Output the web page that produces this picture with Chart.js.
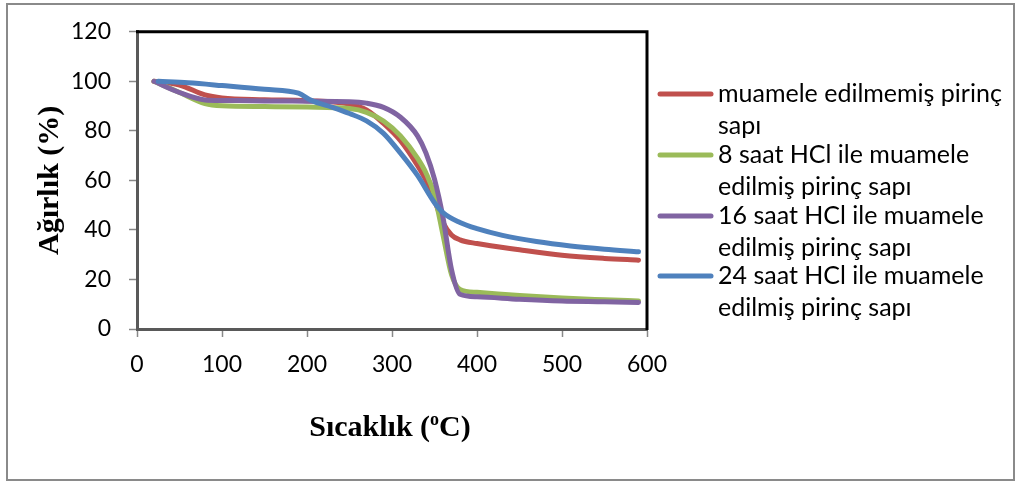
<!DOCTYPE html>
<html>
<head>
<meta charset="utf-8">
<script src="https://cdn.jsdelivr.net/npm/chart.js@4"></script>
<style>
  html, body { margin: 0; padding: 0; background: #fff; }
  #wrap { width: 1016px; height: 482px; }
</style>
</head>
<body>
<div id="wrap"><canvas id="tgaChart" width="1016" height="482"></canvas></div>
<script>
// temperature (°C) and mass (%)
const baseTemp = [20, 50, 80, 100, 150, 200, 250, 270, 290, 310, 330, 340, 350, 360, 370, 380, 400, 450, 500, 550, 590];
const untreatedMass = [100, 98.5, 94.5, 93.3, 92.6, 92.2, 90.8, 88.5, 83, 76, 66, 60, 52, 43, 38, 36, 34.5, 32, 29.8, 28.5, 27.8];
const hcl8Mass = [100, 95.5, 91, 90.1, 89.8, 89.6, 89, 87.5, 84, 78, 69, 63, 54, 38, 22, 16, 14.8, 13.5, 12.5, 11.8, 11.3];
const hcl16Mass = [100, 95.5, 92.5, 92.3, 92.1, 92, 91.8, 91.2, 89.5, 85.5, 78, 71, 60.5, 45, 24, 14, 13, 12, 11.3, 11, 10.7];
const hcl24Temp = [25, 60, 100, 150, 190, 205, 230, 250, 270, 290, 310, 330, 350, 360, 380, 400, 430, 470, 510, 550, 590];
const hcl24Mass = [100, 99.4, 98.3, 96.8, 95.2, 92.3, 89.5, 87, 84, 79, 71, 62, 51, 47, 43, 40.5, 37.8, 35.3, 33.5, 32.2, 31.2];

const seriesLabels = [
  'muamele edilmemiş pirinç sapı',
  '8 saat HCl ile muamele edilmiş pirinç sapı',
  '16 saat HCl ile muamele edilmiş pirinç sapı',
  '24 saat HCl ile muamele edilmiş pirinç sapı'
];
const seriesColors = ['#C0504D', '#9BBB59', '#8064A2', '#4F81BD'];

const xTitle = ['Sıcaklık (', 'o', 'C)'];
const yTitle = 'Ağırlık (%)';

const tickFont = { family: 'Lato', size: 23 };
const titleFamily = '"Liberation Serif", "Times New Roman", serif';

function pts(xs, ys) {
  return xs.map((x, i) => ({ x: x, y: ys[i] }));
}

// gray outer frame + black top/right plot border + x title + legend
const decorPlugin = {
  id: 'decor',
  afterDraw(chart) {
    const ctx = chart.ctx;
    const a = chart.chartArea;
    ctx.save();
    ctx.strokeStyle = '#8a8a8a';
    ctx.lineWidth = 2;
    ctx.strokeRect(7, 4, 1007, 476);

    ctx.strokeStyle = '#000';
    ctx.lineWidth = 3;
    ctx.beginPath();
    ctx.moveTo(a.left - 1, a.top);
    ctx.lineTo(a.right, a.top);
    ctx.lineTo(a.right, a.bottom + 1);
    ctx.stroke();

    // x axis title with superscript o
    ctx.fillStyle = '#000';
    ctx.textBaseline = 'alphabetic';
    const big = 'bold 30px ' + titleFamily;
    const small = 'bold 18px ' + titleFamily;
    ctx.font = big;
    const w0 = ctx.measureText(xTitle[0]).width;
    const w2 = ctx.measureText(xTitle[2]).width;
    ctx.font = small;
    const w1 = ctx.measureText(xTitle[1]).width;
    let x = 390 - (w0 + w1 + w2) / 2;
    const base = 436;
    ctx.font = big;
    ctx.fillText(xTitle[0], x, base);
    x += w0;
    ctx.font = small;
    ctx.fillText(xTitle[1], x, base - 11);
    x += w1;
    ctx.font = big;
    ctx.fillText(xTitle[2], x, base);

    // legend on the right, wrapped like the original
    ctx.font = '25px Lato';
    const rowY = [94, 155, 216, 276];
    seriesLabels.forEach((label, i) => {
      const y = rowY[i];
      ctx.strokeStyle = seriesColors[i];
      ctx.lineWidth = 5;
      ctx.lineCap = 'round';
      ctx.beginPath();
      ctx.moveTo(660, y);
      ctx.lineTo(711, y);
      ctx.stroke();
      const words = label.split(' ');
      const lines = [];
      let cur = '';
      words.forEach(wd => {
        const test = cur ? cur + ' ' + wd : wd;
        if (ctx.measureText(test).width > 292 && cur) {
          lines.push(cur);
          cur = wd;
        } else {
          cur = test;
        }
      });
      lines.push(cur);
      lines.forEach((ln, j) => {
        ctx.fillText(ln, 718, y + 8 + j * 32);
      });
    });
    ctx.restore();
  }
};

new Chart(document.getElementById('tgaChart'), {
  type: 'line',
  data: {
    datasets: [
      { label: seriesLabels[0], data: pts(baseTemp, untreatedMass), borderColor: seriesColors[0], order: 4 },
      { label: seriesLabels[1], data: pts(baseTemp, hcl8Mass), borderColor: seriesColors[1], order: 3 },
      { label: seriesLabels[2], data: pts(baseTemp, hcl16Mass), borderColor: seriesColors[2], order: 2 },
      { label: seriesLabels[3], data: pts(hcl24Temp, hcl24Mass), borderColor: seriesColors[3], order: 1 }
    ]
  },
  options: {
    responsive: false,
    animation: false,
    layout: { padding: { left: 0, top: 28, right: 369, bottom: 0 } },
    elements: {
      line: { borderWidth: 5, cubicInterpolationMode: 'monotone', borderCapStyle: 'round', borderJoinStyle: 'round' },
      point: { radius: 0 }
    },
    scales: {
      x: {
        type: 'linear',
        min: 0,
        max: 600,
        ticks: { stepSize: 100, color: '#000', font: tickFont, padding: 14, maxRotation: 0 },
        grid: { drawOnChartArea: false, drawTicks: true, tickLength: 8, tickColor: '#888', tickWidth: 1.5 },
        border: { color: '#595959', width: 3 },
        afterFit(scale) { scale.height = 153; }
      },
      y: {
        min: 0,
        max: 120,
        ticks: { stepSize: 20, color: '#000', font: tickFont, padding: 18 },
        grid: { drawOnChartArea: false, drawTicks: true, tickLength: 8, tickColor: '#888', tickWidth: 1.5 },
        border: { color: '#595959', width: 3 },
        title: {
          display: true,
          text: yTitle,
          color: '#000',
          font: { family: titleFamily, size: 30, weight: 'bold' },
          padding: { top: 32, bottom: 0 }
        },
        afterFit(scale) { scale.width = 137; }
      }
    },
    plugins: {
      legend: { display: false },
      tooltip: { enabled: false }
    }
  },
  plugins: [decorPlugin]
});
</script>
</body>
</html>
